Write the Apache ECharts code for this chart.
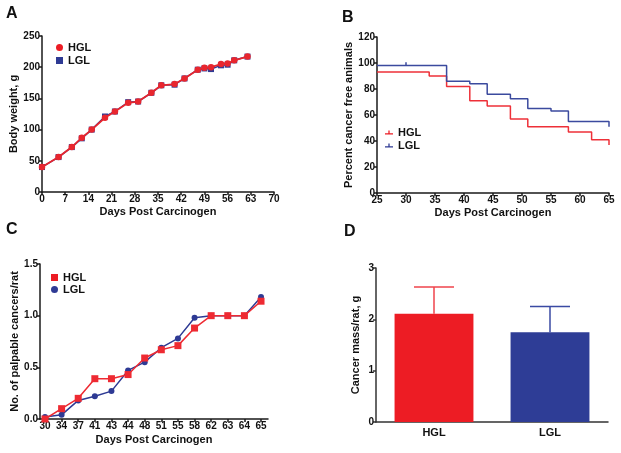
<!DOCTYPE html>
<html><head><meta charset="utf-8">
<script src="https://cdn.jsdelivr.net/npm/echarts@6/dist/echarts.min.js"></script>
<style>html,body{margin:0;padding:0;background:#fff}#c{width:621px;height:453px}</style>
</head><body><div id="c"></div>
<script>
// ---- Panel A: body weight ----
const daysA = [0,5,9,12,15,19,22,26,29,33,36,40,43,47,49,51,54,56,58,62];
const weightHGL = [40,56,72,87,100,119,129,143,145,159,171,173,182,196,199,200,205,206,211,217];
const weightLGL = [40,56,72,86,100,121,129,144,145,159,171,172,182,196,198,197,203,204,211,217];
// ---- Panel B: percent cancer free (Kaplan-Meier steps) ----
const daysB_HGL = [25,34,37,41,44,48,51,58,62,65,65];
const freeHGL   = [93,90,82,71,67,57,51,47,41,41,37];
const daysB_LGL = [25,37,41,44,48,51,55,58,65,65];
const freeLGL   = [98,86,84,76,72.5,65,63,55,55,51];
const censorLGLday = [30,30];
const censorLGLval = [98,100.5];
// ---- Panel C: palpable cancers per rat ----
const daysC = ['30','34','37','41','43','44','48','51','55','58','62','63','64','65'];
const cancersHGL = [0.0,0.10,0.20,0.39,0.39,0.43,0.59,0.67,0.71,0.88,1.0,1.0,1.0,1.14];
const cancersLGL = [0.02,0.04,0.18,0.22,0.27,0.47,0.55,0.69,0.78,0.98,1.0,1.0,1.0,1.18];
// ---- Panel D: cancer mass ----
const groupsD = ['HGL','LGL'];
const massMean = [2.11,1.75];
const massUpper = [2.63,2.25];

const F = '"Liberation Sans", Arial, Helvetica, sans-serif';
const RED = '#ec1c24', BLUE = '#2e3a94';
const AX = '#1a1a1a';
const TICKFS = 10;

function axis(extra) {
  return Object.assign({
    axisLine:{show:true,onZero:false,lineStyle:{color:AX,width:1.5}},
    axisTick:{show:true,inside:false,length:3,lineStyle:{color:AX,width:1.5}},
    axisLabel:{color:'#111',fontSize:TICKFS,fontWeight:'bold',fontFamily:F,margin:2},
    splitLine:{show:false},
    nameLocation:'middle',
    nameTextStyle:{color:'#111',fontSize:11,fontWeight:'bold',fontFamily:F}
  }, extra);
}
const zip = (a,b) => a.map((v,i)=>[v,b[i]]);
const legText = {color:'#111',fontSize:11,fontWeight:'bold',fontFamily:F};

const option = {
  animation:false,
  backgroundColor:'#fff',
  grid:[
    {left:42, top:36, width:232, height:156},
    {left:377, top:37, width:232, height:156},
    {left:40, top:264, width:228, height:155},
    {left:376, top:268, width:232, height:154}
  ],
  xAxis:[
    axis({gridIndex:0,type:'value',min:0,max:70,interval:7,name:'Days Post Carcinogen',nameGap:14}),
    axis({gridIndex:1,type:'value',min:25,max:65,interval:5,name:'Days Post Carcinogen',nameGap:14}),
    axis({gridIndex:2,type:'value',min:-0.3,max:13.42,name:'Days Post Carcinogen',nameGap:15,
      axisTick:{show:true,length:3,lineStyle:{color:AX,width:1.5},customValues:daysC.map((d,i)=>i)},
      axisLabel:{color:'#111',fontSize:TICKFS,fontWeight:'bold',fontFamily:F,margin:2,
        customValues:daysC.map((d,i)=>i), formatter:v=>daysC[Math.round(v)]}}),
    axis({gridIndex:3,type:'category',data:groupsD,axisTick:{show:false},
      axisLine:{show:true,lineStyle:{color:'#333',width:1.5}},
      axisLabel:{color:'#111',fontSize:11,fontWeight:'bold',fontFamily:F,margin:5}})
  ],
  yAxis:[
    axis({gridIndex:0,type:'value',min:0,max:250,interval:50,name:'Body weight, g',nameGap:21}),
    axis({gridIndex:1,type:'value',min:0,max:120,interval:20,name:'Percent cancer free animals',nameGap:19}),
    axis({gridIndex:2,type:'value',min:0,max:1.5,interval:0.5,name:'No. of palpable cancers/rat',nameGap:20,
      axisLabel:{color:'#111',fontSize:TICKFS,fontWeight:'bold',fontFamily:F,margin:2,formatter:v=>v.toFixed(1)}}),
    axis({gridIndex:3,type:'value',min:0,max:3,interval:1,name:'Cancer mass/rat, g',nameGap:15,
      axisLine:{show:true,lineStyle:{color:'#333',width:1.5}},
      axisTick:{show:true,length:3,lineStyle:{color:'#333',width:1.5}}})
  ],
  legend:[
    {left:51, top:37, orient:'vertical', itemGap:2, itemWidth:7, itemHeight:7, textStyle:legText,
      data:[{name:'HGL',icon:'circle',itemStyle:{color:RED}},{name:'LGL',icon:'rect',itemStyle:{color:BLUE}}]},
    {left:380, top:122, orient:'vertical', itemGap:2, itemWidth:8, itemHeight:6, textStyle:legText,
      data:[{name:'HGL',icon:'path://M0,4.2h10v1.6H0z M4.2,1h1.6v4H4.2z',itemStyle:{color:RED}},
            {name:'LGL',icon:'path://M0,4.2h10v1.6H0z M4.2,1h1.6v4H4.2z',itemStyle:{color:BLUE}}]},
    {left:46, top:267, orient:'vertical', itemGap:1, itemWidth:7, itemHeight:7, textStyle:legText,
      data:[{name:'HGL',icon:'rect',itemStyle:{color:RED}},{name:'LGL',icon:'circle',itemStyle:{color:BLUE}}]}
  ],
  series:[
    // A
    {name:'LGL',type:'line',xAxisIndex:0,yAxisIndex:0,data:zip(daysA,weightLGL),symbol:'rect',symbolSize:6,
      lineStyle:{color:BLUE,width:1.5},itemStyle:{color:BLUE},z:2},
    {name:'HGL',type:'line',xAxisIndex:0,yAxisIndex:0,data:zip(daysA,weightHGL),symbol:'circle',symbolSize:6.5,
      lineStyle:{color:'#e8262e',width:1.8},itemStyle:{color:'#e8262e'},z:3},
    // B
    {name:'HGL',type:'line',xAxisIndex:1,yAxisIndex:1,step:'end',data:zip(daysB_HGL,freeHGL),showSymbol:false,
      lineStyle:{color:'#ee3038',width:1.5},itemStyle:{color:RED}},
    {name:'LGL',type:'line',xAxisIndex:1,yAxisIndex:1,step:'end',data:zip(daysB_LGL,freeLGL),showSymbol:false,
      lineStyle:{color:'#3b4a9e',width:1.5},itemStyle:{color:BLUE}},
    {name:'LGL',type:'line',xAxisIndex:1,yAxisIndex:1,data:zip(censorLGLday,censorLGLval),showSymbol:false,
      lineStyle:{color:'#3b4a9e',width:1.5},itemStyle:{color:BLUE}},
    // C
    {name:'LGL',type:'line',xAxisIndex:2,yAxisIndex:2,data:cancersLGL.map((v,i)=>[i,v]),symbol:'circle',symbolSize:6,
      lineStyle:{color:BLUE,width:1.5},itemStyle:{color:BLUE},z:2},
    {name:'HGL',type:'line',xAxisIndex:2,yAxisIndex:2,data:cancersHGL.map((v,i)=>[i,v]),symbol:'rect',symbolSize:7,
      lineStyle:{color:'#ee2a32',width:1.5},itemStyle:{color:'#ee2a32'},z:3},
    // D
    {name:'mass',type:'bar',xAxisIndex:3,yAxisIndex:3,barWidth:'68%',
      data:massMean.map((v,i)=>({value:v,itemStyle:{color:i===0?'#ed1c24':'#2e3d96'}}))},
    {name:'err',type:'custom',xAxisIndex:3,yAxisIndex:3,z:1,
      data:massMean.map((v,i)=>[i,v,massUpper[i]]),
      renderItem:(params,api)=>{
        const b=api.coord([api.value(0),api.value(1)]);
        const t=api.coord([api.value(0),api.value(2)]);
        const col = params.dataIndex===0?'#ef434b':'#3a4aa3';
        return {type:'group',children:[
          {type:'line',shape:{x1:b[0],y1:b[1],x2:t[0],y2:t[1]},style:{stroke:col,lineWidth:1.5}},
          {type:'line',shape:{x1:t[0]-20,y1:t[1],x2:t[0]+20,y2:t[1]},style:{stroke:col,lineWidth:1.5}}
        ]};
      }}
  ],
  graphic:[
    {type:'text',left:6,top:6,style:{text:'A',font:'bold 16px '+F,fill:'#111'}},
    {type:'text',left:342,top:10,style:{text:'B',font:'bold 16px '+F,fill:'#111'}},
    {type:'text',left:6,top:222,style:{text:'C',font:'bold 16px '+F,fill:'#111'}},
    {type:'text',left:344,top:224,style:{text:'D',font:'bold 16px '+F,fill:'#111'}}
  ]
};
const chart = echarts.init(document.getElementById('c'),null,{renderer:'canvas'});
chart.setOption(option);
</script>
</body></html>
